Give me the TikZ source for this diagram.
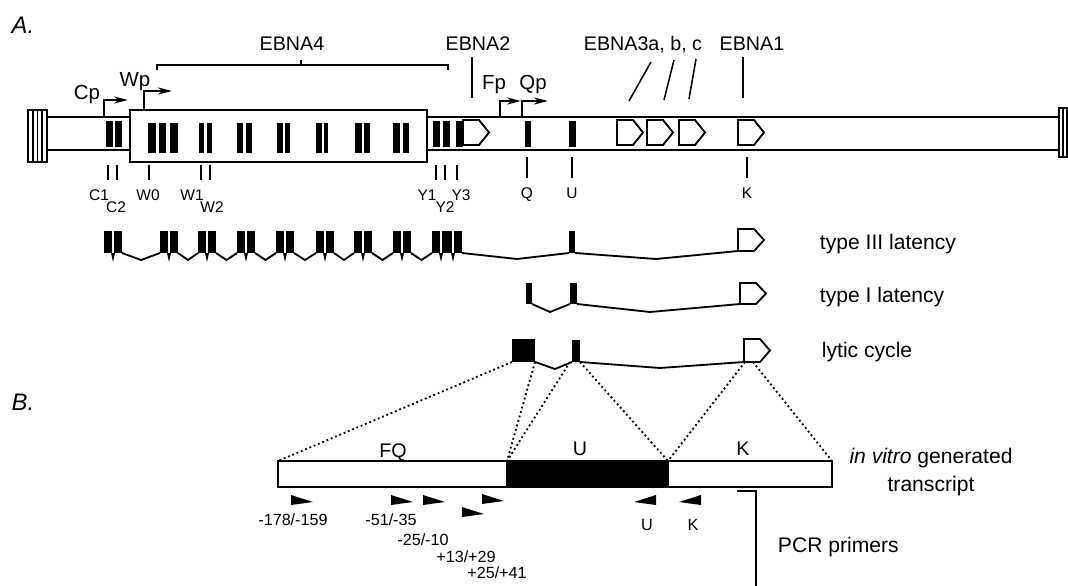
\documentclass[tikz,border=0pt]{standalone}
\usepackage{fontspec}
\setmainfont{Liberation Sans}
\usetikzlibrary{positioning, arrows.meta}
\tikzstyle{exon} = [fill=black]
\tikzstyle{arrow} = [line width=1.3pt, -{Stealth[length=10pt, width=5pt]}]

% open reading frame: x, top, bottom
\newcommand{\orfbox}[3]{\draw[orf] (#1,#2) -- ++(16,0) -- ++(10,{(#3-#2)/2}) -- ++(-10,{(#3-#2)/2}) -- ++(-16,0) -- cycle;}

\begin{document}
\begin{tikzpicture}[x=0.025cm, y=-0.025cm,
    tube/.style={line width=1.5pt},
    intron/.style={line width=1.3pt},
    orf/.style={draw, line width=1.3pt, fill=white, line join=miter},
    zoomline/.style={line width=1.3pt, dotted},
    tick/.style={line width=1.1pt},
    ebna/.style={anchor=base, font=\fontsize{14}{16}\selectfont},
    prom/.style={anchor=base, font=\fontsize{14.5}{16}\selectfont},
    exlabel/.style={anchor=base, font=\fontsize{11}{12}\selectfont},
    primlabel/.style={anchor=base, font=\fontsize{11.5}{13}\selectfont},
    rowlabel/.style={anchor=base west, font=\fontsize{15}{18}\selectfont},
    panel/.style={anchor=base, font=\fontsize{17}{18}\selectfont\itshape}
]
    \useasboundingbox (0,0) rectangle (1068,586);

    % Panel A - genome map
    \node[panel] (pa) at (23,33) {A.};

    % terminal repeats
    \draw[tube] (28,110) rectangle (47,162);
    \foreach \x in {33,37.5,42} \draw[line width=0.8pt] (\x,110) -- (\x,162);
    \draw[tube] (1059,108) rectangle (1067,157);
    \draw[line width=0.8pt] (1063,108) -- (1063,157);

    % genome tube and W repeat box
    \draw[tube] (47,117) -- (130,117) (47,150) -- (130,150);
    \draw[tube] (427,117) -- (1059,117) (427,150) -- (1059,150);
    \draw[tube] (130,110) rectangle (427,162);

    % exons on the genome
    \foreach \a/\b in {106/113,115/122,433/440,443/450,456/463,525/531,569/576}
        \fill[exon] (\a,121) rectangle (\b,147);
    \foreach \a/\b in {148/156,159/166,170/178,199/204,207/212,237/243,246/252,277/283,285/290,316/322,324/328,355/362,364/370,393/400,403/409}
        \fill[exon] (\a,123) rectangle (\b,153);

    % EBNA coding exons
    \orfbox{463}{120}{145}
    \orfbox{617}{120}{145}
    \orfbox{647}{120}{145}
    \orfbox{679}{120}{145}
    \orfbox{738}{120}{145}

    % promoters
    \coordinate (cp) at (104,117);
    \coordinate (wp) at (144,110);
    \coordinate (fp) at (500,117);
    \coordinate (qp) at (522,117);
    \draw[arrow] (cp) -- ++(0,-17) -- ++(24,0);
    \draw[arrow] (wp) -- ++(0,-19) -- ++(28,0);
    \draw[arrow] (fp) -- ++(0,-16) -- ++(21,0);
    \draw[arrow] (qp) -- ++(0,-16) -- ++(26,0);
    \node[prom] (cplabel) at (87,99) {Cp};
    \node[prom] (wplabel) at (135,86) {Wp};
    \node[prom] (fplabel) at (494,89) {Fp};
    \node[prom] (qplabel) at (533,89) {Qp};

    % EBNA labels
    \node[ebna] (ebna4) at (292,50) {EBNA4};
    \node[ebna] (ebna2) at (478,50) {EBNA2};
    \node[ebna] (ebna3) at (643,50) {EBNA3a, b, c};
    \node[ebna] (ebna1) at (752,50) {EBNA1};
    \draw[tube] (157,70) -- (157,65) -- (448,65) -- (448,70);
    \draw[tube] (301,65) -- (301,60);
    \draw[tick] (472,57) -- (472,98);
    \draw[tick] (651,62) -- (629,101);
    \draw[tick] (674,60) -- (664,100);
    \draw[tick] (696,59) -- (689,99);
    \draw[tick] (743,57) -- (743,98);

    % exon names
    \foreach \x in {108,117,149,201,210,436,445,457} \draw[tick] (\x,165) -- (\x,180);
    \foreach \x in {527,572,747} \draw[tick] (\x,157) -- (\x,178);
    \node[exlabel] (c1) at (99,200) {C1};
    \node[exlabel] (c2) at (116,212) {C2};
    \node[exlabel] (w0) at (148,200) {W0};
    \node[exlabel] (w1) at (192,200) {W1};
    \node[exlabel] (w2) at (212,212) {W2};
    \node[exlabel] (y1) at (427,200) {Y1};
    \node[exlabel] (y2) at (445,212) {Y2};
    \node[exlabel] (y3) at (461,200) {Y3};
    \node[exlabel] (q) at (527,198) {Q};
    \node[exlabel] (u) at (572,198) {U};
    \node[exlabel] (k) at (747,198) {K};

    % type III latency
    \foreach \a/\b in {104/112,114/122,432/440,442/452,454/462,569/575}
        \fill[exon] (\a,231) rectangle (\b,253);
    \foreach \s in {160,198,237,276,316,354,393} {
        \fill[exon] (\s,231) rectangle (\s+8,253);
        \fill[exon] (\s+10,231) rectangle (\s+18,253);
        \fill[exon] (\s+7,253) -- (\s+9,262) -- (\s+11,253) -- cycle;
    }
    \foreach \m in {113,441,453}
        \fill[exon] (\m-2,253) -- (\m,262) -- (\m+2,253) -- cycle;
    \foreach \a/\b in {122/160,178/198,216/237,255/276,294/316,334/354,372/393,411/432}
        \draw[intron] (\a,253) -- ({(\a+\b)/2},260) -- (\b,253);
    \draw[intron] (462,253) -- (517,259) -- (569,253);
    \draw[intron] (575,253) -- (656,259) -- (738,251);
    \orfbox{738}{229}{251}
    \node[rowlabel] (typeIII) at (815,249) {type III latency};

    % type I latency
    \fill[exon] (526,283) rectangle (532,304);
    \fill[exon] (570,283) rectangle (577,304);
    \draw[intron] (532,304) -- (550,312) -- (570,304);
    \draw[intron] (577,304) -- (650,312) -- (740,304);
    \orfbox{740}{283}{304}
    \node[rowlabel] (typeI) at (815,302) {type I latency};

    % lytic cycle
    \fill[exon] (512,339) rectangle (535,362);
    \fill[exon] (572,340) rectangle (580,362);
    \draw[intron] (535,362) -- (555,369) -- (572,362);
    \draw[intron] (580,362) -- (660,368) -- (744,362);
    \orfbox{744}{339}{362}
    \node[rowlabel] (lytic) at (817,357) {lytic cycle};

    % Panel B - in vitro transcript
    \node[panel] (pb) at (23,410) {B.};
    \coordinate (lyt1) at (512,362);
    \coordinate (lyt2) at (535,362);
    \coordinate (lyu1) at (570,362);
    \coordinate (lyu2) at (580,362);
    \coordinate (lyk1) at (745,362);
    \coordinate (lyk2) at (753,362);
    \coordinate (fqnw) at (278,461);
    \coordinate (unw) at (507,461);
    \coordinate (knw) at (668,461);
    \coordinate (kne) at (832,461);

    \draw[tube] (fqnw) rectangle (507,487);
    \draw[tube, fill=black] (unw) rectangle (668,487);
    \draw[tube] (knw) rectangle (832,487);

    \draw[zoomline] (lyt1) -- (fqnw);
    \draw[zoomline] (lyt2) -- (unw);
    \draw[zoomline] (lyu1) -- (unw);
    \draw[zoomline] (lyu2) -- (knw);
    \draw[zoomline] (lyk1) -- (knw);
    \draw[zoomline] (lyk2) -- (kne);

    \node[ebna] (fqlabel) at (393,457) {FQ};
    \node[ebna] (ulabel) at (580,455) {U};
    \node[ebna] (klabel) at (743,455) {K};
    \node[font=\fontsize{15}{20}\selectfont, align=center] (invitro) at (931,472) {\textit{in vitro} generated\\transcript};

    % PCR primers
    \foreach \x/\y in {291/500,391/500,423/500,482/499,462/512}
        \fill[exon] (\x,\y-5) -- (\x+22,\y+2) -- (\x,\y+5) -- cycle;
    \foreach \x/\y in {656/500,701/500}
        \fill[exon] (\x,\y-5) -- (\x-22,\y+2) -- (\x,\y+5) -- cycle;
    \node[primlabel] (p178) at (293,525) {-178/-159};
    \node[primlabel] (p51) at (391,525) {-51/-35};
    \node[primlabel] (p25) at (423,545) {-25/-10};
    \node[primlabel] (p13) at (466,562) {+13/+29};
    \node[primlabel] (p41) at (497,578) {+25/+41};
    \node[primlabel] (pu) at (647,530) {U};
    \node[primlabel] (pk) at (693,530) {K};

    \coordinate (pcr0) at (737,491);
    \coordinate (pcr1) at (756,586);
    \draw[tube] (pcr0) -| (pcr1);
    \node[rowlabel] (pcr) at (773,552) {PCR primers};
\end{tikzpicture}
\end{document}
